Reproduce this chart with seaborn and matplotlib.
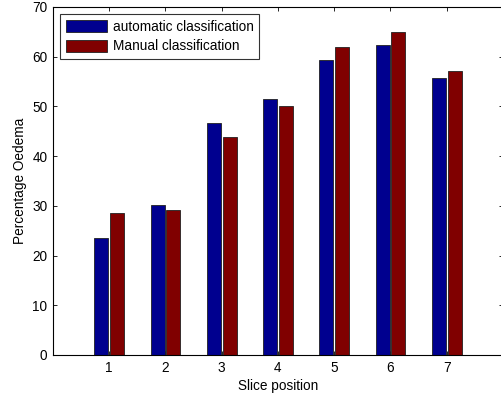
import matplotlib

matplotlib.use("Agg")
import matplotlib.pyplot as plt  # noqa: E402
import pandas as pd  # noqa: E402
import seaborn as sns  # noqa: E402

slices = ["1", "2", "3", "4", "5", "6", "7"]
automatic = [23.5, 30.2, 46.7, 51.5, 59.3, 62.4, 55.7]
manual = [28.6, 29.2, 43.9, 50.1, 62.0, 65.0, 57.1]
series = ["automatic classification", "Manual classification"]

df = pd.DataFrame({
    "slice": slices * 2,
    "value": automatic + manual,
    "method": [series[0]] * len(slices) + [series[1]] * len(slices),
})

sns.set_style("ticks", {"text.color": "black", "axes.labelcolor": "black",
                        "xtick.color": "black", "ytick.color": "black"})
plt.rcParams["font.family"] = ["Liberation Sans", "DejaVu Sans"]
fs = 9.8

fig = plt.figure(figsize=(5.02, 3.96), dpi=100)
ax = fig.add_axes([53 / 502, 41 / 396, 450 / 502, 348 / 396])

sns.barplot(data=df, x="slice", y="value", hue="method", order=slices,
            hue_order=series, palette=["#00008F", "#800000"],
            width=0.56, gap=0.1, edgecolor="#202020", linewidth=0.6,
            saturation=1, ax=ax)

ax.set_xlim(-1, 7)
ax.set_ylim(0, 70)
ax.set_yticks(range(0, 71, 10))
ax.set_xlabel("Slice position", fontsize=fs, labelpad=3)
ax.set_ylabel("Percentage Oedema", fontsize=fs, labelpad=4)
ax.tick_params(direction="in", length=3, width=0.6, labelsize=fs,
               top=True, right=True, color="black", pad=4)
for s in ax.spines.values():
    s.set_visible(True)
    s.set_linewidth(0.8)
    s.set_color("black")

leg = ax.legend(loc="upper left", fontsize=fs, frameon=True, fancybox=False,
                edgecolor="black", handlelength=3.0, handleheight=1.0,
                borderaxespad=0.55, labelspacing=0.4, borderpad=0.4,
                handletextpad=0.45)
leg.get_frame().set_linewidth(0.8)

fig.savefig("out.png", dpi=100)
